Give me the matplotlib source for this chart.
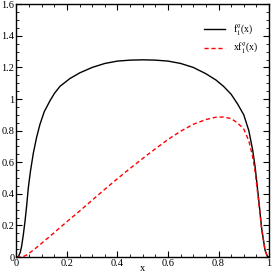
import matplotlib
matplotlib.use("Agg")
import matplotlib.pyplot as plt
from matplotlib.ticker import MultipleLocator

plt.rcParams['font.family'] = ['Liberation Serif', 'DejaVu Serif']
plt.rcParams['mathtext.fontset'] = 'stix'

x = [0, 0.007, 0.015, 0.02, 0.027, 0.034, 0.04, 0.047, 0.055, 0.067, 0.08,
     0.093, 0.11, 0.133, 0.15, 0.172, 0.212, 0.25, 0.3, 0.35, 0.4, 0.45, 0.5,
     0.55, 0.6, 0.65, 0.7, 0.75, 0.79, 0.82, 0.85, 0.875, 0.9, 0.92, 0.935,
     0.945, 0.958, 0.971, 0.984, 0.993, 1.0]
f1q = [0, 0, 0.03, 0.065, 0.14, 0.23, 0.32, 0.44, 0.54, 0.66, 0.76,
       0.84, 0.92, 0.99, 1.035, 1.08, 1.13, 1.165, 1.2, 1.225, 1.24, 1.246, 1.248,
       1.246, 1.24, 1.225, 1.2, 1.16, 1.12, 1.08, 1.03, 0.97, 0.9, 0.8, 0.68,
       0.57, 0.38, 0.18, 0.045, 0.005, 0]
xf1q = [0, 0, 0.0005, 0.0013, 0.0038, 0.0078, 0.0128, 0.0207, 0.0297, 0.0442, 0.0608,
        0.078, 0.101, 0.132, 0.155, 0.186, 0.240, 0.291, 0.36, 0.429, 0.496, 0.561, 0.624,
        0.685, 0.744, 0.796, 0.84, 0.87, 0.885, 0.886, 0.876, 0.849, 0.81, 0.736, 0.636,
        0.539, 0.364, 0.175, 0.044, 0.005, 0]

fig = plt.figure(figsize=(2.73, 2.73), dpi=100)
ax = fig.add_axes([0.0604, 0.0586, 0.925, 0.926])

ax.plot(x, f1q, color='black', linewidth=1.0, label=r'f$_1^q$(x)')
ax.plot(x, xf1q, color='red', linewidth=1.0, linestyle=(0, (3, 2)), label=r'xf$_1^q$(x)')

ax.set_xlim(0, 1)
ax.set_ylim(0, 1.6)
ax.set_xticks([0, 0.2, 0.4, 0.6, 0.8, 1.0])
ax.set_yticks([0, 0.2, 0.4, 0.6, 0.8, 1.0, 1.2, 1.4, 1.6])
ax.set_xticklabels(['0', '0.2', '0.4', '0.6', '0.8', '1'])
ax.set_yticklabels(['0', '0.2', '0.4', '0.6', '0.8', '1', '1.2', '1.4', '1.6'])
ax.xaxis.set_minor_locator(MultipleLocator(0.05))
ax.yaxis.set_minor_locator(MultipleLocator(0.05))
ax.tick_params(which='both', direction='in', top=True, right=True, labelsize=7.5, pad=1.5)
ax.tick_params(which='major', length=4, width=0.8)
ax.tick_params(which='minor', length=2, width=0.6)
for s in ax.spines.values():
    s.set_linewidth(1.0)

ax.set_xlabel('x', fontsize=7.5, labelpad=-3)
ax.legend(loc='upper right', bbox_to_anchor=(0.99, 0.965), frameon=False, fontsize=7,
          handlelength=2.2, handletextpad=0.8, labelspacing=0.3)

fig.savefig('out.png', dpi=100)
